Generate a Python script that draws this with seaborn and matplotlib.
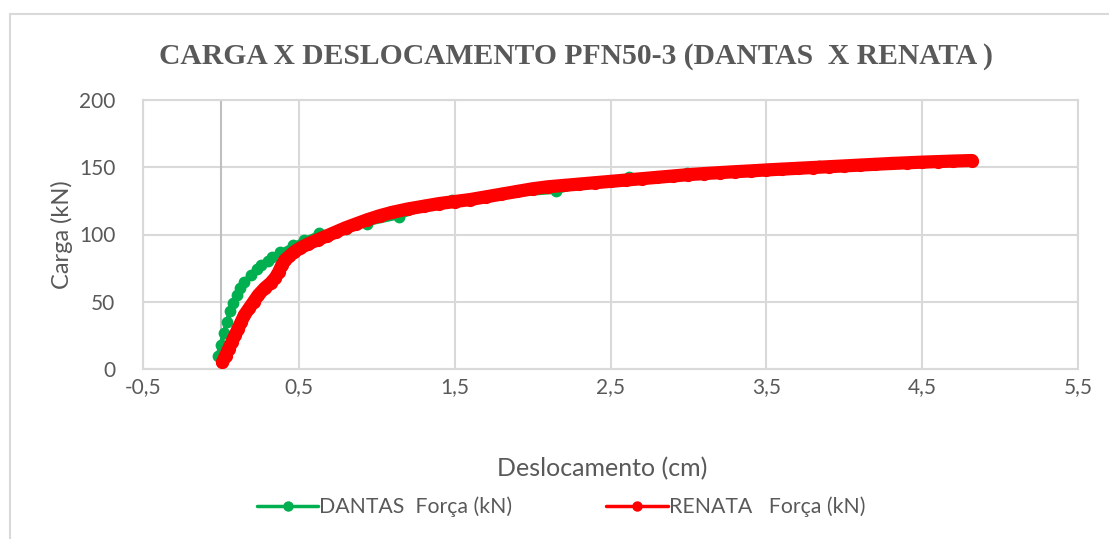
import matplotlib
matplotlib.use("Agg")
import matplotlib.pyplot as plt
import seaborn as sns
import pandas as pd
from matplotlib.lines import Line2D
from matplotlib.ticker import FuncFormatter

# ---------------- data ----------------
dantas_x = [-0.02, 0.00, 0.02, 0.04, 0.06, 0.08, 0.10, 0.12, 0.15, 0.19, 0.23, 0.26,
            0.30, 0.33, 0.38, 0.46, 0.53, 0.63, 0.80, 0.94, 1.14, 1.48, 2.15, 2.62,
            2.99, 3.84]
dantas_y = [10, 18, 27, 35, 43, 49, 55, 60, 65, 70, 74, 77,
            80, 83, 87, 92, 96, 101, 104, 108, 113, 126, 132, 143,
            146, 151]

renata_x = [0.01, 0.03, 0.05, 0.07, 0.09, 0.11, 0.13, 0.15, 0.18, 0.21, 0.24, 0.28,
            0.32, 0.35, 0.37, 0.39, 0.41, 0.44, 0.47, 0.51, 0.56, 0.62, 0.68, 0.74,
            0.80, 0.87, 0.94, 1.02, 1.10, 1.20, 1.30, 1.40, 1.50, 1.60, 1.70, 1.80,
            1.90, 2.00, 2.10, 2.20, 2.30, 2.40, 2.50, 2.60, 2.70, 2.80, 2.90, 3.00,
            3.10, 3.20, 3.30, 3.40, 3.50, 3.60, 3.70, 3.80, 3.90, 4.00, 4.10, 4.20,
            4.30, 4.40, 4.50, 4.60, 4.70, 4.82]
renata_y = [5, 10, 15, 20, 25, 30, 35, 40, 45, 50, 55, 60,
            64, 68, 72, 77, 81, 84, 87, 90, 93, 96, 99, 102,
            105, 108, 111, 114, 116.5, 119, 121, 123, 124.5, 126, 128, 130,
            132, 134, 135.5, 136.5, 137.5, 138.5, 139.5, 140.5, 141.5, 142.5, 143.5, 144.5,
            145.3, 146, 146.7, 147.3, 148, 148.6, 149.2, 149.8, 150.4, 151, 151.6, 152.2,
            152.8, 153.3, 153.8, 154.2, 154.6, 155]

x_ticks = [-0.5, 0.5, 1.5, 2.5, 3.5, 4.5, 5.5]
y_ticks = [0, 50, 100, 150, 200]

title = "CARGA X DESLOCAMENTO PFN50-3 (DANTAS  X RENATA )"
label_dantas = "DANTAS  Força (kN)"
label_renata = "RENATA   Força (kN)"

GREEN = "#00B050"
RED = "#FF0000"
TXT = "#595959"
GRID = "#D9D9D9"

sns.set_theme(style="white")
plt.rcParams["font.family"] = ["Lato", "DejaVu Sans"]

fig = plt.figure(figsize=(11.09, 5.39), dpi=100)
ax = fig.add_axes([143 / 1109, 1 - 369 / 539, (1078 - 143) / 1109, (369 - 100) / 539])

df_d = pd.DataFrame({"x": dantas_x, "y": dantas_y})
df_r = pd.DataFrame({"x": renata_x, "y": renata_y})

sns.lineplot(data=df_d, x="x", y="y", sort=False, ax=ax, color=GREEN,
             linewidth=3.5, marker="o", markersize=8.5, markeredgewidth=0,
             solid_capstyle="round", zorder=3, legend=False)
sns.lineplot(data=df_r, x="x", y="y", sort=False, ax=ax, color=RED,
             linewidth=9.5, marker="o", markersize=9.5, markeredgewidth=0,
             solid_capstyle="round", solid_joinstyle="round", zorder=4, legend=False)

ax.set_xlim(-0.5, 5.5)
ax.set_ylim(0, 200)
ax.set_xticks(x_ticks)
ax.set_yticks(y_ticks)
ax.xaxis.set_major_formatter(FuncFormatter(lambda v, p: f"{v:.1f}".replace(".", ",")))
ax.yaxis.set_major_formatter(FuncFormatter(lambda v, p: f"{int(v)}"))
ax.grid(True, color=GRID, linewidth=1.5, zorder=0)
ax.set_axisbelow(True)
ax.axvline(0, color="#BFBFBF", linewidth=1.5, zorder=1)
for s in ax.spines.values():
    s.set_color(GRID)
    s.set_linewidth(1.5)
ax.tick_params(axis="both", length=0, labelsize=15, colors=TXT)
ax.tick_params(axis="y", pad=20)
ax.tick_params(axis="x", pad=6)

ax.set_xlabel("Deslocamento (cm)", fontsize=18, color=TXT, labelpad=0)
ax.set_ylabel("Carga (kN)", fontsize=17, color=TXT, labelpad=0)
ax.xaxis.set_label_coords((602 - 143) / (1078 - 143), -(469 - 369) / (369 - 100))
ax.yaxis.set_label_coords(-(143 - 62) / (1078 - 143), 0.5)
ax.xaxis.label.set_va("center")
ax.yaxis.label.set_va("center")

fig.text(576 / 1109, 1 - 57 / 539, title, ha="center", va="center",
         fontsize=21.3, fontweight="bold", color=TXT, family="Liberation Serif")

handles = [
    Line2D([0], [0], color=GREEN, lw=2.5, marker="o", markersize=7.5, markeredgewidth=0),
    Line2D([0], [0], color=RED, lw=2.5, marker="o", markersize=7.5, markeredgewidth=0),
]
fig.legend(handles, [label_dantas, label_renata], loc="center",
           bbox_to_anchor=(561 / 1109, 1 - 507 / 539), ncol=2, frameon=False,
           fontsize=15.3, labelcolor=TXT, handlelength=2.9, handletextpad=0.05,
           columnspacing=4.4)

# outer chart frame
fig.add_artist(Line2D([10 / 1109, 1], [1 - 14 / 539, 1 - 14 / 539],
                      transform=fig.transFigure, color=GRID, lw=1.5))
fig.add_artist(Line2D([10 / 1109, 10 / 1109], [0, 1 - 14 / 539],
                      transform=fig.transFigure, color=GRID, lw=1.5))

fig.savefig("out.png", dpi=100)
